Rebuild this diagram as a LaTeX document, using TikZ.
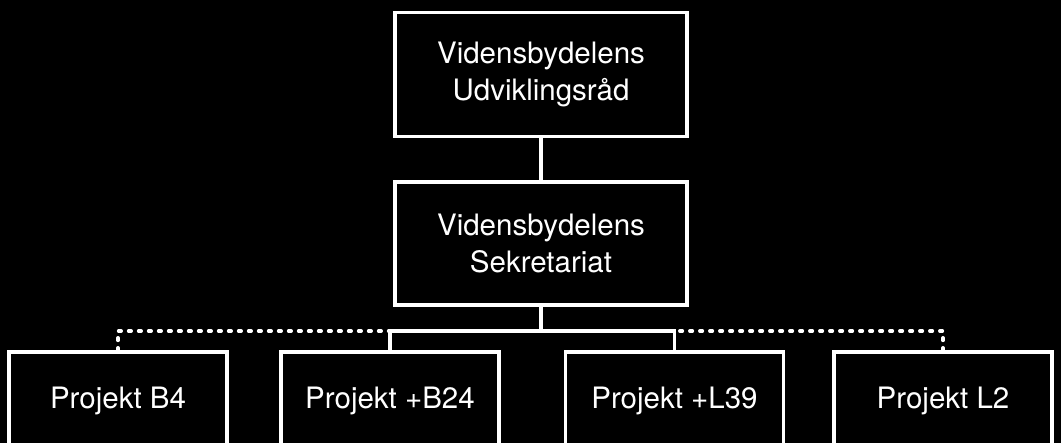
\documentclass[tikz,border=0pt]{standalone}
\usepackage{fontspec}
\setmainfont{TeX Gyre Heros}
\begin{document}
\begin{tikzpicture}[x=1pt,y=-1pt,
  box/.style={draw=white, line width=3.3pt, fill=black, text=white, align=center,
    inner sep=0pt, font=\fontsize{29.5}{37}\selectfont},
  conn/.style={draw=white, line width=3.3pt},
  dconn/.style={draw=white, line width=3.6pt, line cap=round, dash pattern=on 2.5pt off 7.5pt}]
\fill[black] (0,0) rectangle (1061,443);
\useasboundingbox (0,0) rectangle (1061,443);
\node[box, minimum width=292pt, minimum height=124pt] (top) at (541,74.5) {Vidensbydelens\\Udviklingsråd};
\node[box, minimum width=292pt, minimum height=123pt] (sek) at (541,243.5) {Vidensbydelens\\Sekretariat};
\node[box, minimum width=218pt, minimum height=98pt] (p1) at (118,401) {Projekt B4};
\node[box, minimum width=218pt, minimum height=98pt] (p2) at (390,401) {Projekt +B24};
\node[box, minimum width=218pt, minimum height=98pt] (p3) at (674.5,401) {Projekt +L39};
\node[box, minimum width=218pt, minimum height=98pt] (p4) at (943,401) {Projekt L2};
\coordinate (bus) at (541,331);
\coordinate (b2) at (p2.north |- bus);
\coordinate (b3) at (p3.north |- bus);
\draw[conn] (top.south) -- (sek.north);
\draw[conn] (sek.south) -- (bus);
\draw[conn] (p2.north) -- (b2) -- (b3) -- (p3.north);
\draw[dconn] (p1.north) |- (b2);
\draw[dconn] (p4.north) |- (b3);
\end{tikzpicture}
\end{document}
